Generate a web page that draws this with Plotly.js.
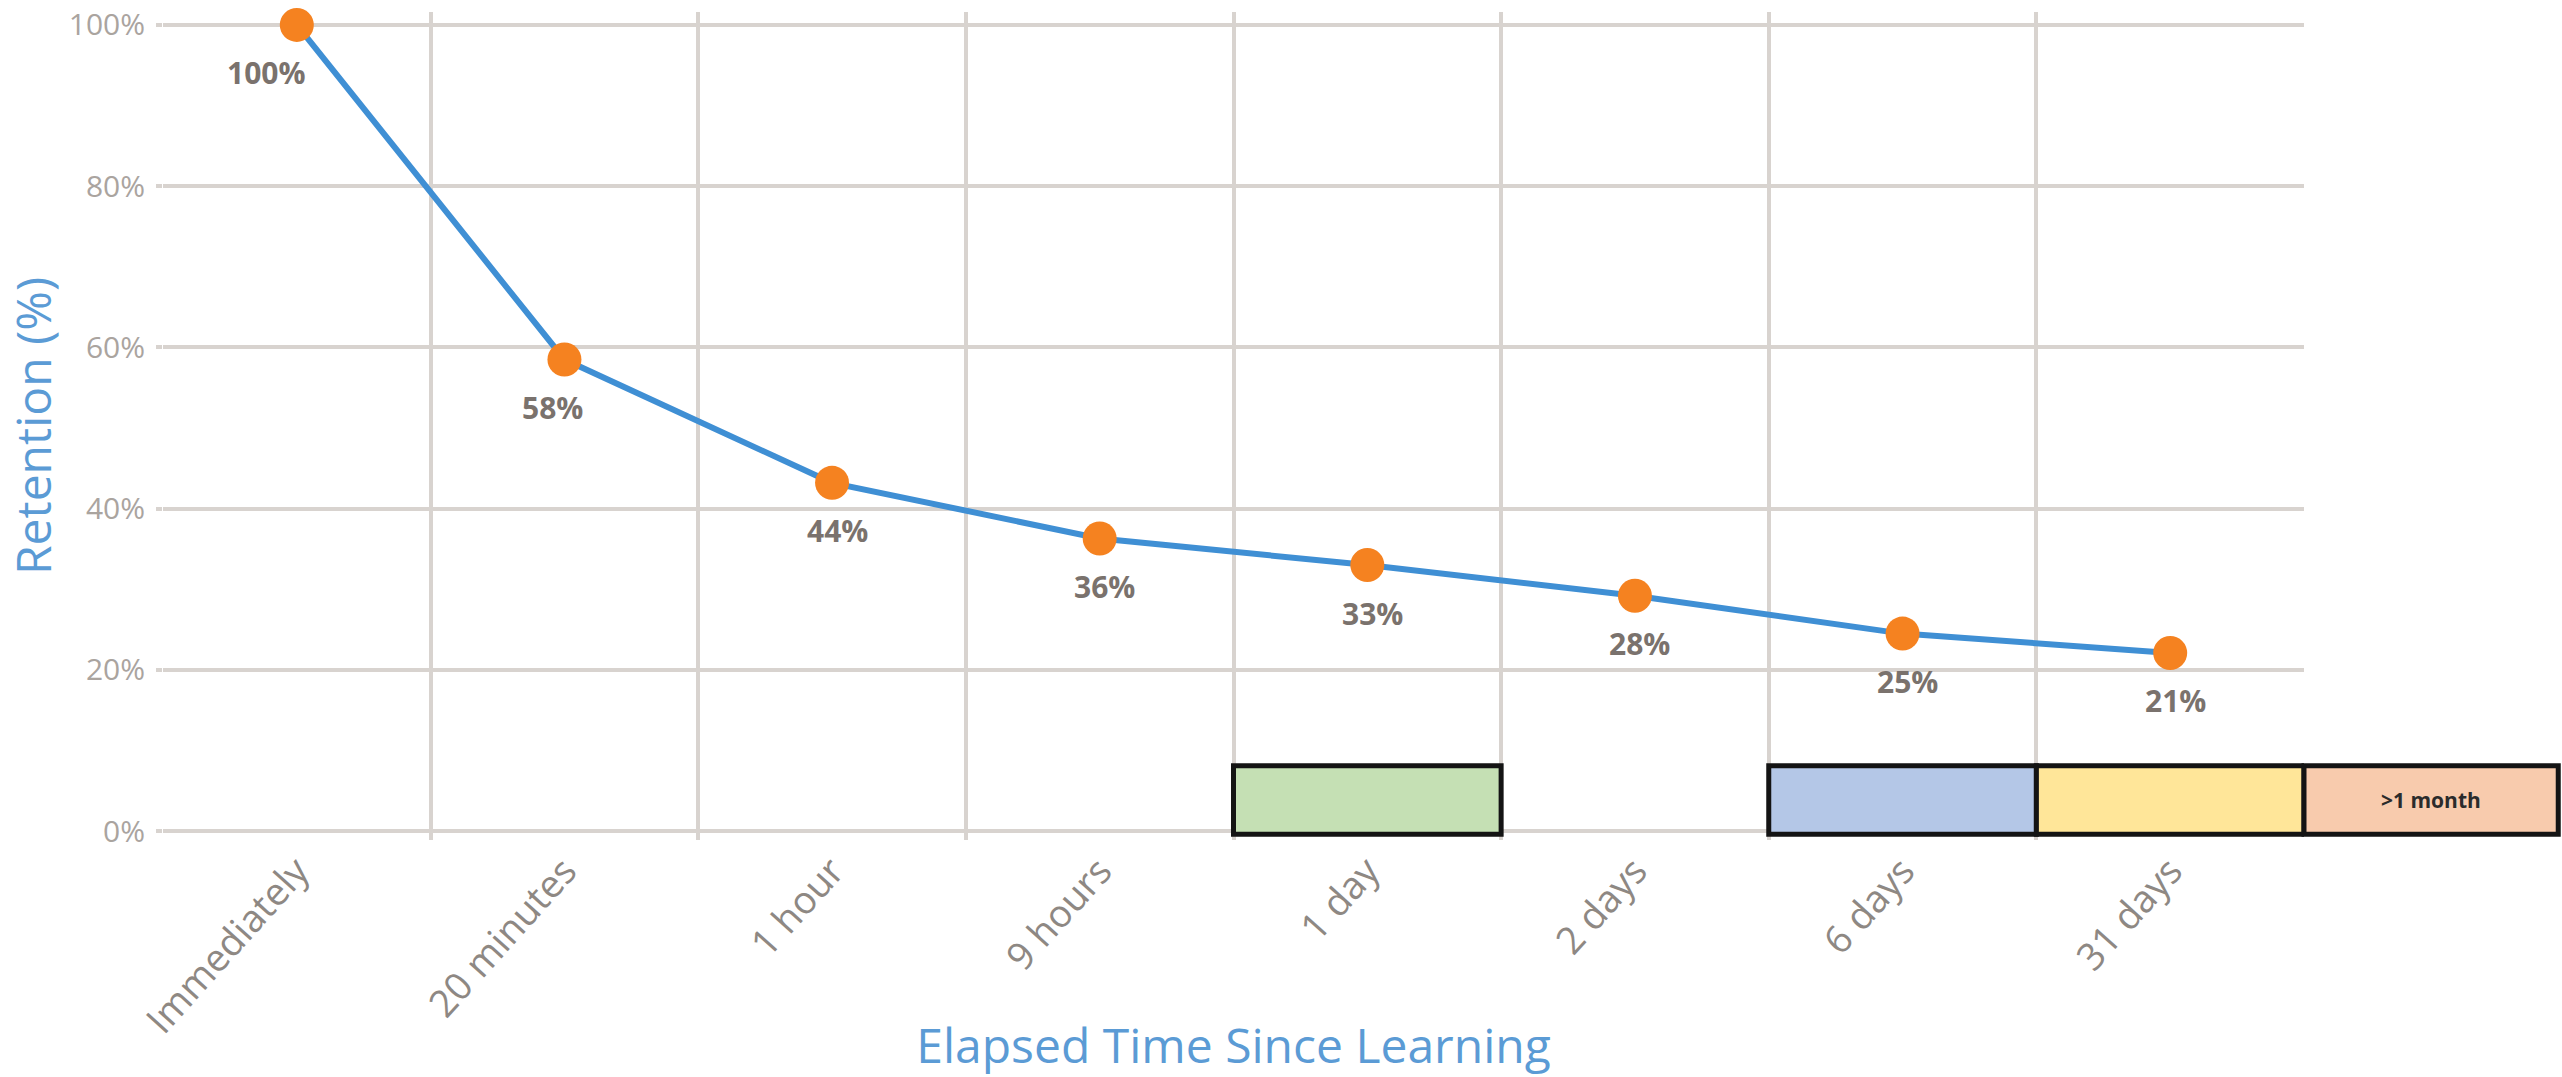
<!DOCTYPE html>
<html><head><meta charset="utf-8">
<script src="https://cdn.plot.ly/plotly-3.0.1.min.js"></script>
<style>html,body{margin:0;padding:0;background:#fff;} #chart{width:2562px;height:1077px;}</style>
</head><body><div id="chart"></div>
<script>
// ---- data ----
const categories = ['Immediately', '20 minutes', '1 hour', '9 hours', '1 day', '2 days', '6 days', '31 days'];
const retention = [100, 58.5, 43.2, 36.3, 33.0, 29.2, 24.5, 22.1];
const pointLabels = ['100%', '58%', '44%', '36%', '33%', '28%', '25%', '21%'];
const yTickValues = [0, 20, 40, 60, 80, 100];
const yTickLabels = ['0%', '20%', '40%', '60%', '80%', '100%'];
const boxCategories = ['1 day', '6 days', '31 days'];
const boxFills = ['#c5e0b4', '#b4c7e7', '#ffe699'];
const beyondLabel = '>1 month';
const beyondFill = '#f8cbad';

// ---- styling ----
const gridColor = '#d8d3cf';
const blue = '#5b9bd5';
const boxBottom = -0.4, boxTop = 8.1;
const boxLine = {color: '#141414', width: 5};

const shapes = boxCategories.map((c, i) => {
  const idx = categories.indexOf(c);
  return {type: 'rect', xref: 'x', yref: 'y', x0: idx - 0.5, x1: idx + 0.5,
          y0: boxBottom, y1: boxTop, fillcolor: boxFills[i], line: boxLine, layer: 'above'};
});
const beyondWidth = 0.95 / categories.length;
shapes.push({type: 'rect', xref: 'x domain', yref: 'y', x0: 1, x1: 1 + beyondWidth,
             y0: boxBottom, y1: boxTop, fillcolor: beyondFill, line: boxLine, layer: 'above'});

const annotations = categories.map((c, i) => ({
  x: c, y: retention[i], xref: 'x', yref: 'y', text: pointLabels[i], showarrow: false,
  xanchor: 'center', yanchor: 'middle',
  yshift: -48, xshift: i === 0 ? -30 : (i === 1 ? -12 : 5),
  font: {family: 'Open Sans', size: 30, color: '#7a726d', weight: 'bold'}
}));
annotations.push({
  xref: 'x domain', yref: 'y', x: 1 + beyondWidth / 2, y: (boxBottom + boxTop) / 2,
  xanchor: 'center', yanchor: 'middle',
  text: beyondLabel, showarrow: false,
  font: {family: 'Open Sans', size: 21, color: '#2b2b2b', weight: 'bold'}
});

const trace = {
  type: 'scatter', mode: 'lines+markers', x: categories, y: retention,
  line: {color: '#3f8fd4', width: 6},
  marker: {color: '#f58220', size: 34, line: {width: 0}},
  hoverinfo: 'skip', cliponaxis: false
};

const layout = {
  width: 2562, height: 1077,
  margin: {l: 163, r: 258, t: 12, b: 237},
  paper_bgcolor: '#ffffff', plot_bgcolor: '#ffffff',
  showlegend: false,
  font: {family: 'Open Sans'},
  xaxis: {
    type: 'category', range: [-0.5, categories.length - 0.5],
    tickson: 'boundaries', showgrid: true, gridcolor: gridColor, gridwidth: 4,
    ticks: '', showline: false, zeroline: false, tickangle: -48,
    tickfont: {family: 'Open Sans', size: 38, color: '#8e8883'},
    title: {text: 'Elapsed Time Since Learning', font: {family: 'Open Sans', size: 48, color: blue}, standoff: 0}
  },
  yaxis: {
    range: [-1.1, 101.6], tickvals: yTickValues, ticktext: yTickLabels,
    showgrid: true, gridcolor: gridColor, gridwidth: 4, zeroline: false, showline: false,
    ticks: 'outside', ticklen: 6, tickwidth: 4, tickcolor: gridColor, ticklabelstandoff: 5,
    tickfont: {family: 'Open Sans', size: 30, color: '#aaa49f'},
    title: {text: 'Retention (%)', font: {family: 'Open Sans', size: 48, color: blue}, standoff: 6}
  },
  shapes: shapes,
  annotations: annotations
};

Plotly.newPlot('chart', [trace], layout, {staticPlot: true, displayModeBar: false});
</script>
</body></html>
